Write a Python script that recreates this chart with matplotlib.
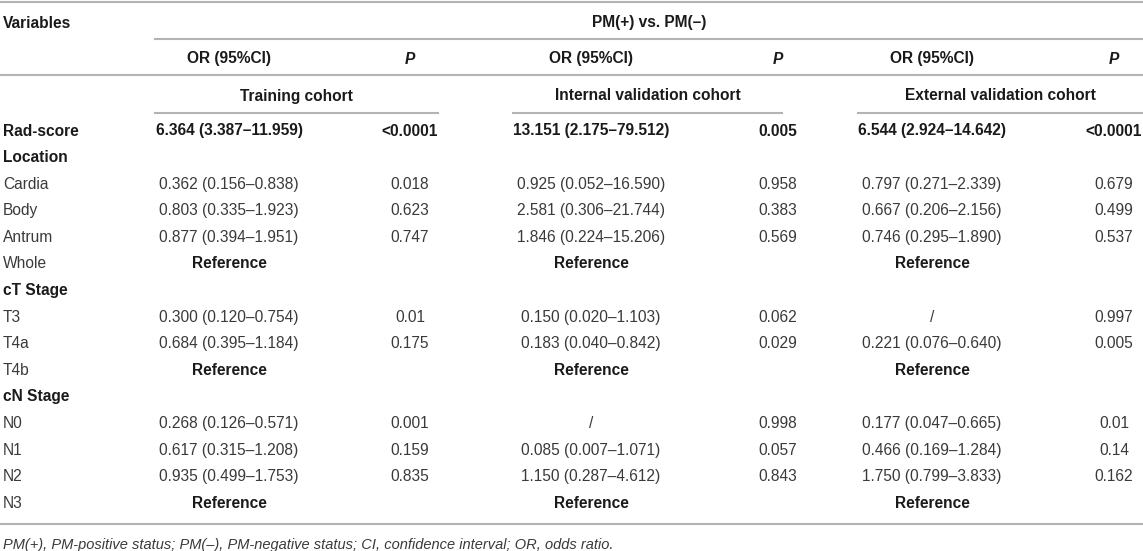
import matplotlib
matplotlib.use("Agg")
import matplotlib.pyplot as plt

plt.rcParams['font.family'] = ['Liberation Sans', 'DejaVu Sans']

# table content ------------------------------------------------
variables = ['Rad-score', 'Location', 'Cardia', 'Body', 'Antrum', 'Whole',
             'cT Stage', 'T3', 'T4a', 'T4b', 'cN Stage', 'N0', 'N1', 'N2', 'N3']
bold_rows = ['Rad-score', 'Location', 'cT Stage', 'cN Stage']

train_or = ['6.364 (3.387–11.959)', '', '0.362 (0.156–0.838)', '0.803 (0.335–1.923)',
            '0.877 (0.394–1.951)', 'Reference', '', '0.300 (0.120–0.754)',
            '0.684 (0.395–1.184)', 'Reference', '', '0.268 (0.126–0.571)',
            '0.617 (0.315–1.208)', '0.935 (0.499–1.753)', 'Reference']
train_p = ['<0.0001', '', '0.018', '0.623', '0.747', '', '', '0.01', '0.175', '',
           '', '0.001', '0.159', '0.835', '']
int_or = ['13.151 (2.175–79.512)', '', '0.925 (0.052–16.590)', '2.581 (0.306–21.744)',
          '1.846 (0.224–15.206)', 'Reference', '', '0.150 (0.020–1.103)',
          '0.183 (0.040–0.842)', 'Reference', '', '/',
          '0.085 (0.007–1.071)', '1.150 (0.287–4.612)', 'Reference']
int_p = ['0.005', '', '0.958', '0.383', '0.569', '', '', '0.062', '0.029', '',
         '', '0.998', '0.057', '0.843', '']
ext_or = ['6.544 (2.924–14.642)', '', '0.797 (0.271–2.339)', '0.667 (0.206–2.156)',
          '0.746 (0.295–1.890)', 'Reference', '', '/',
          '0.221 (0.076–0.640)', 'Reference', '', '0.177 (0.047–0.665)',
          '0.466 (0.169–1.284)', '1.750 (0.799–3.833)', 'Reference']
ext_p = ['<0.0001', '', '0.679', '0.499', '0.537', '', '', '0.997', '0.005', '',
         '', '0.01', '0.14', '0.162', '']
cohorts = ['Training cohort', 'Internal validation cohort', 'External validation cohort']
footnote = 'PM(+), PM-positive status; PM(–), PM-negative status; CI, confidence interval; OR, odds ratio.'

# layout (pixels) ---------------------------------------------
W, H = 1143, 551
fig = plt.figure(figsize=(W / 100, H / 100), dpi=100)
ax = fig.add_axes([0, 0, 1, 1])
ax.set_xlim(0, W)
ax.set_ylim(H, 0)
ax.axis('off')

fs = 11.2
bl = 5.5  # baseline offset from row centre
dark = '#1a1a1a'
grey = '#3a3a3a'
line_c = '#b4b4b4'
lw = 1.5

or_center = [229, 591, 932]
p_center = [410, 778, 1114]
cohort_lines = [(155, 438), (513, 782), (858, 1143)]


def put(x, y, s, bold=False, ha='left', **kw):
    ax.text(x, y + bl, s, fontsize=fs, weight='bold' if bold else 'normal',
            color=dark if bold else grey, va='baseline', ha=ha, **kw)


# rules
ax.plot([0, W], [2, 2], color=line_c, lw=lw)
ax.plot([155, W], [39, 39], color=line_c, lw=lw)
ax.plot([0, W], [75, 75], color=line_c, lw=lw)
for x0, x1 in cohort_lines:
    ax.plot([x0, x1], [113, 113], color=line_c, lw=lw)
ax.plot([0, W], [524, 524], color=line_c, lw=lw)

# header
put(3, 22, 'Variables', bold=True)
put(649, 22, 'PM(+) vs. PM(–)', bold=True, ha='center')
for i in range(3):
    put(or_center[i], 58, 'OR (95%CI)', bold=True, ha='center')
    put(p_center[i], 58, 'P', bold=True, ha='center', style='italic')
    x0, x1 = cohort_lines[i]
    put((x0 + x1) / 2, 95, cohorts[i], bold=True, ha='center')

# body
y0, dy = 130, 26.6
cols = [(train_or, train_p), (int_or, int_p), (ext_or, ext_p)]
for r, var in enumerate(variables):
    y = y0 + r * dy
    isb = var in bold_rows
    put(3, y, var, bold=isb)
    for i, (ors, ps) in enumerate(cols):
        if ors[r]:
            put(or_center[i], y, ors[r], bold=isb or ors[r] == 'Reference', ha='center')
        if ps[r]:
            put(p_center[i], y, ps[r], bold=isb, ha='center')

ax.text(3, 549, footnote, fontsize=10.5, style='italic', color=grey, va='baseline')

fig.savefig('out.png', dpi=100)
